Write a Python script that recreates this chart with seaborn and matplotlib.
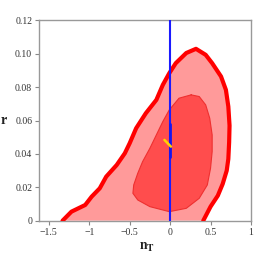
import matplotlib
matplotlib.use("Agg")
import matplotlib.pyplot as plt
import seaborn as sns

# outer (95%) contour
outer_x = [-1.33, -1.22, -1.05, -0.97, -0.87, -0.79, -0.66, -0.56, -0.50, -0.42, -0.30, -0.17,
           -0.09, -0.01, 0.07, 0.20, 0.32, 0.44, 0.52, 0.63, 0.69, 0.72, 0.735, 0.73, 0.72,
           0.70, 0.65, 0.59, 0.50, 0.41]
outer_y = [0.0, 0.0054, 0.0094, 0.0144, 0.0194, 0.0264, 0.0334, 0.0404, 0.0464, 0.0554, 0.0644, 0.0724,
           0.0814, 0.0884, 0.0944, 0.1005, 0.103, 0.0994, 0.0944, 0.0864, 0.0784, 0.0684, 0.057, 0.047, 0.037,
           0.030, 0.022, 0.015, 0.0084, 0.0]

# inner (68%) contour
inner_x = [0.26, 0.11, -0.01, -0.09, -0.17, -0.25, -0.34, -0.40, -0.45, -0.46, -0.40, -0.25,
           -0.01, 0.20, 0.36, 0.46, 0.50, 0.52, 0.52, 0.49, 0.44, 0.36, 0.26]
inner_y = [0.0754, 0.0734, 0.0664, 0.0594, 0.0514, 0.0434, 0.0354, 0.0284, 0.0214, 0.0164, 0.0124, 0.0084,
           0.0054, 0.0074, 0.0134, 0.0214, 0.0314, 0.0414, 0.0514, 0.0614, 0.0694, 0.0744, 0.0754]

blue_x = [0.0, 0.0]
blue_y = [0.0, 0.12]
blue_thick_y = [0.038, 0.058]
yellow_x = [-0.07, 0.01]
yellow_y = [0.0484, 0.0444]

xticks = [-1.5, -1, -0.5, 0, 0.5, 1]
xtick_labels = ["\u22121.5", "\u22121", "\u22120.5", "0", "0.5", "1"]
yticks = [0, 0.02, 0.04, 0.06, 0.08, 0.10, 0.12]
ytick_labels = ["0", "0.02", "0.04", "0.06", "0.08", "0.10", "0.12"]

sns.set_style("white")
plt.rcParams["font.family"] = ["Liberation Serif", "DejaVu Serif"]
plt.rcParams["mathtext.fontset"] = "stix"

fig = plt.figure(figsize=(2.59, 2.59), dpi=100)
ax = fig.add_axes([0.151, 0.148, 0.818, 0.773])

ax.fill(outer_x, outer_y, color="#ff9a9a", lw=0, zorder=1)
ax.fill(inner_x, inner_y, color="#ff4d4d", lw=0, zorder=2)
sns.lineplot(x=inner_x, y=inner_y, sort=False, estimator=None, color="#ee3030", lw=0.8, ax=ax, zorder=3)
sns.lineplot(x=outer_x, y=outer_y, sort=False, estimator=None, color="#ff0000", lw=3, ax=ax, zorder=4)
sns.lineplot(x=blue_x, y=blue_y, sort=False, estimator=None, color="#1a1aff", lw=1.5, ax=ax, zorder=5)
sns.lineplot(x=blue_x, y=blue_thick_y, sort=False, estimator=None, color="#1515f0", lw=2.0, ax=ax, zorder=5)
sns.lineplot(x=yellow_x, y=yellow_y, sort=False, estimator=None, color="#ffd400", lw=1.8, ax=ax, zorder=6)

ax.set_xlim(-1.62, 0.99)
ax.set_ylim(0, 0.12)
ax.set_xticks(xticks)
ax.set_xticklabels(xtick_labels)
ax.set_yticks(yticks)
ax.set_yticklabels(ytick_labels)
ax.tick_params(axis="both", direction="out", length=3, width=0.8, color="#888888",
               labelsize=7, labelcolor="#333333", pad=2, bottom=True, left=True)
for s in ax.spines.values():
    s.set_color("#999999")
    s.set_linewidth(1)

ax.set_ylabel("r", rotation=0, fontsize=10, fontweight="bold", color="#222222")
ax.yaxis.set_label_coords(-0.165, 0.47)
ax.set_xlabel(r"$\mathbf{n_T}$", fontsize=10, color="#222222")
ax.xaxis.set_label_coords(0.51, -0.1)

fig.savefig("out.png", dpi=100)
